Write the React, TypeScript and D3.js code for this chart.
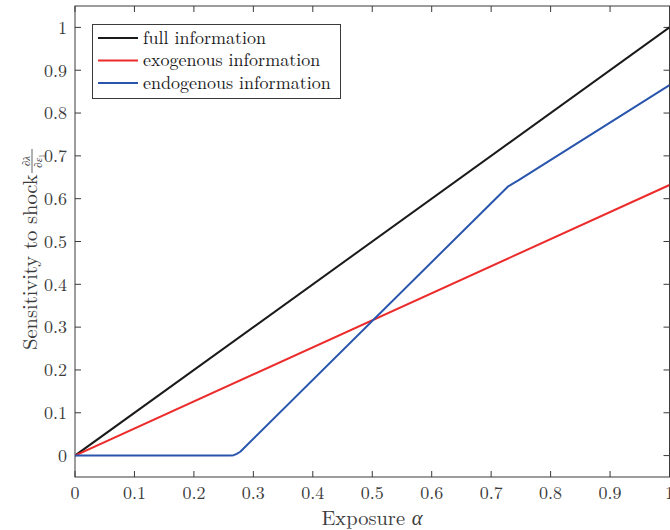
import React from "react";
import * as d3 from "d3";

const xTicks = [0, 0.1, 0.2, 0.3, 0.4, 0.5, 0.6, 0.7, 0.8, 0.9, 1];
const yTicks = [0, 0.1, 0.2, 0.3, 0.4, 0.5, 0.6, 0.7, 0.8, 0.9, 1];
const seriesNames = ["full information", "exogenous information", "endogenous information"];
const seriesColors = ["#1a1a1a", "#ec2b2b", "#2955ad"];
const fullInfo: [number, number][] = [[0, 0], [1, 1]];
const exoInfo: [number, number][] = [[0, 0], [1, 0.632]];
const endoInfo: [number, number][] = [
  [0, 0], [0.262, 0], [0.267, 0.001], [0.272, 0.004], [0.278, 0.009],
  [0.728, 0.628], [0.735, 0.634], [0.745, 0.642], [1, 0.865],
];

export default function App() {
  const W = 670, H = 530;
  const L = 75, R = 669.5, T = 6, B = 477;
  const x = d3.scaleLinear().domain([0, 1]).range([L, R]);
  const y = d3.scaleLinear().domain([-0.05, 1.05]).range([B, T]);
  const line = d3.line<[number, number]>().x(d => x(d[0])).y(d => y(d[1]));
  const series = [fullInfo, exoInfo, endoInfo];
  const font = "'Latin Modern Roman', 'Liberation Serif', 'DejaVu Serif', serif";
  const axisColor = "#3a3a3a";
  const textColor = "#3c3c3c";
  return (
    <svg width={W} height={H} style={{ position: "fixed", left: 0, top: 0, background: "#fff" }} fontFamily={font}>
      <rect x={0} y={0} width={W} height={H} fill="#fff" />
      <defs>
        <clipPath id="plot"><rect x={L} y={T} width={R - L} height={B - T} /></clipPath>
      </defs>
      {xTicks.map(t => (
        <g key={"xt" + t}>
          <line x1={x(t)} x2={x(t)} y1={B} y2={B - 6} stroke={axisColor} strokeWidth={1} />
          <line x1={x(t)} x2={x(t)} y1={T} y2={T + 6} stroke={axisColor} strokeWidth={1} />
          <text x={x(t)} y={499} textAnchor="middle" fontSize={18} fill={textColor}>{String(t)}</text>
        </g>
      ))}
      {yTicks.map(t => (
        <g key={"yt" + t}>
          <line x1={L} x2={L + 6} y1={y(t)} y2={y(t)} stroke={axisColor} strokeWidth={1} />
          <line x1={R} x2={R - 6} y1={y(t)} y2={y(t)} stroke={axisColor} strokeWidth={1} />
          <text x={67} y={y(t)} dy="0.35em" textAnchor="end" fontSize={18} fill={textColor}>{String(t)}</text>
        </g>
      ))}
      <rect x={L} y={T} width={R - L} height={B - T} fill="none" stroke={axisColor} strokeWidth={1} />
      <g clipPath="url(#plot)">
        {series.map((s, i) => (
          <path key={i} d={line(s) || ""} fill="none" stroke={seriesColors[i]} strokeWidth={2} strokeLinejoin="round" />
        ))}
      </g>
      <rect x={92.5} y={24.5} width={248} height={74} fill="#fff" stroke={axisColor} strokeWidth={1} />
      {seriesNames.map((n, i) => (
        <g key={n}>
          <line x1={98} x2={138} y1={38 + i * 22.5} y2={38 + i * 22.5} stroke={seriesColors[i]} strokeWidth={2} />
          <text x={143} y={38 + i * 22.5} dy="0.32em" fontSize={18} fill="#1a1a1a">{n}</text>
        </g>
      ))}
      <text x={372} y={525} textAnchor="middle" fontSize={20.5} fill={textColor}>
        Exposure <tspan fontStyle="italic">α</tspan>
      </text>
      <g transform="translate(37,350) rotate(-90)" fill={textColor}>
        <text x={0} y={0} fontSize={20.5}>Sensitivity to shock</text>
        <text x={189} y={-7} fontSize={11} textAnchor="middle" fontStyle="italic">∂λ</text>
        <line x1={177} x2={201} y1={-5} y2={-5} stroke={textColor} strokeWidth={0.8} />
        <text x={189} y={5} fontSize={11} textAnchor="middle" fontStyle="italic">∂ε<tspan fontSize={7.5} dy={2} fontStyle="normal">1</tspan></text>
      </g>
    </svg>
  );
}
